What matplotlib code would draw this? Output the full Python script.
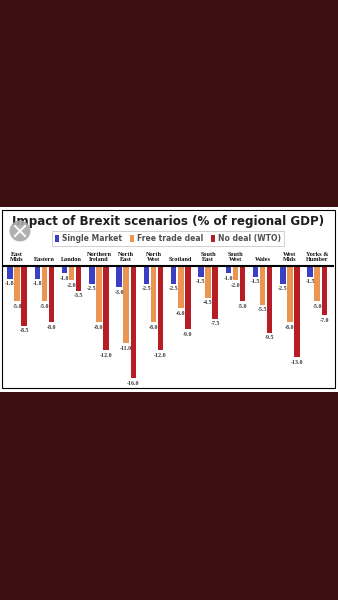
import numpy as np
import matplotlib.pyplot as plt
from matplotlib.patches import Rectangle, Ellipse, Patch
from matplotlib.lines import Line2D

regions = ["East\nMids", "Eastern", "London", "Northern\nIreland", "North\nEast",
           "North\nWest", "Scotland", "South\nEast", "South\nWest", "Wales",
           "West\nMids", "Yorks &\nHumber"]
single_market = [-1.8, -1.8, -1.0, -2.5, -3.0, -2.5, -2.5, -1.5, -1.0, -1.5, -2.5, -1.5]
free_trade = [-5.0, -5.0, -2.0, -8.0, -11.0, -8.0, -6.0, -4.5, -2.0, -5.5, -8.0, -5.0]
no_deal = [-8.5, -8.0, -3.5, -12.0, -16.0, -12.0, -9.0, -7.5, -5.0, -9.5, -13.0, -7.0]

series_names = ["Single Market", "Free trade deal", "No deal (WTO)"]
colors = ["#3b3fc4", "#ec9550", "#b71d25"]

W, H = 338, 600


def fx(px):
    return px / W


def fy(py):
    return 1 - py / H


fig = plt.figure(figsize=(3.38, 6), dpi=100, facecolor="#3c0f10")

# white screenshot panel and chart frame
fig.patches.append(Rectangle((0, fy(392)), 1, (392 - 207) / H, transform=fig.transFigure,
                             facecolor="white", edgecolor="none", zorder=-2))
fig.patches.append(Rectangle((fx(2), fy(388)), 333 / W, (388 - 210) / H, transform=fig.transFigure,
                             fill=False, edgecolor="black", lw=0.8, zorder=-1))

ax = fig.add_axes([fx(4), fy(385), 329 / W, (385 - 266) / H])
ax.set_zorder(2)
ax.set_facecolor("none")
ax.set_xlim(-0.48, 11.58)
ax.set_ylim(-17, 0)
for s in ["left", "right", "bottom"]:
    ax.spines[s].set_visible(False)
ax.spines["top"].set_linewidth(1.5)
ax.set_xticks([])
ax.set_yticks([])

x = np.arange(len(regions))
offsets = [-0.26, 0.0, 0.26]
for vals, off, col in zip([single_market, free_trade, no_deal], offsets, colors):
    ax.bar(x + off, vals, width=0.2, color=col, zorder=2)
    for xi, v in zip(x, vals):
        ax.annotate(f"{v:.1f}", (xi + off, v), xytext=(0, -2), textcoords="offset points",
                    ha="center", va="top", fontsize=4.3, family="Liberation Serif",
                    weight="bold", color="#3a3a3a", annotation_clip=False)

for xi, lab in zip(x, regions):
    ax.annotate(lab, (xi, 0), xytext=(0, 3), textcoords="offset points", ha="center",
                va="bottom", fontsize=4.5, family="Liberation Serif", weight="bold",
                linespacing=1.0, color="#111111", annotation_clip=False)

fig.text(fx(168.5), fy(221), "Impact of Brexit scenarios (% of regional GDP)", ha="center",
         va="center", fontsize=8.55, weight="bold", color="#1e1e1e")

handles = [Patch(facecolor=c, edgecolor="none") for c in colors]
leg = fig.legend(handles, series_names, loc="center", bbox_to_anchor=(fx(168), fy(238.5)),
                 ncol=3, prop={"weight": "bold", "size": 5.5}, frameon=True,
                 handlelength=0.5, handleheight=1.0, handletextpad=0.4, columnspacing=1.0,
                 borderpad=0.4, fancybox=False)
leg.get_frame().set_edgecolor("#bbbbbb")
leg.get_frame().set_linewidth(0.6)
for t in leg.get_texts():
    t.set_color("#505050")

# close button overlay
fig.patches.append(Ellipse((fx(20), fy(231)), 21 / W, 21 / H, transform=fig.transFigure,
                           facecolor="#a8a8a8", edgecolor="none", alpha=0.9, zorder=5))
for (x0, y0, x1, y1) in [(15, 226, 25, 236), (15, 236, 25, 226)]:
    fig.lines.append(Line2D([fx(x0), fx(x1)], [fy(y0), fy(y1)], transform=fig.transFigure,
                            color="white", lw=1.4, zorder=6))

fig.savefig("out.png", dpi=100, facecolor=fig.get_facecolor())
